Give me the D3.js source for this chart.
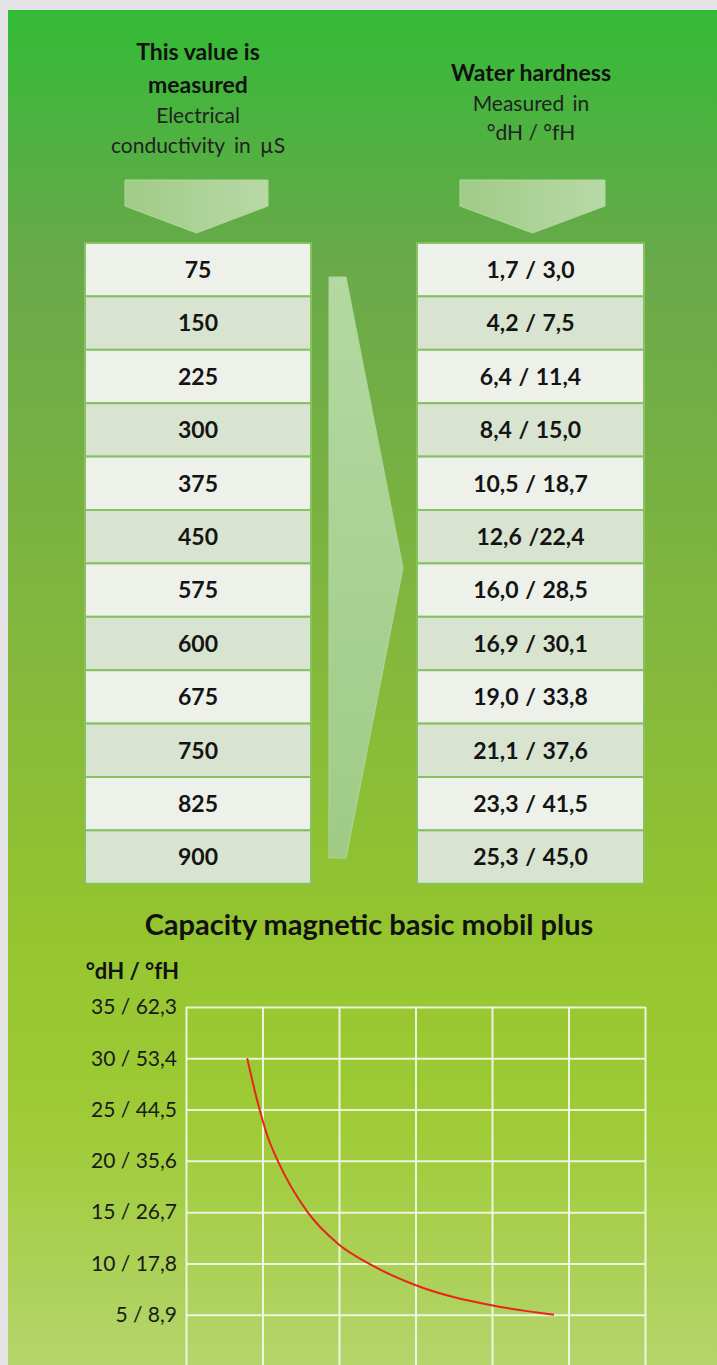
<!DOCTYPE html>
<html>
<head>
<meta charset="utf-8">
<script src="https://cdn.jsdelivr.net/npm/d3@7"></script>
<style>
  html, body { margin: 0; padding: 0; background: #e4e4e6; }
  svg { display: block; font-family: Lato, "Open Sans", sans-serif; }
</style>
</head>
<body>
<script>
// table data
var conductivity = [75, 150, 225, 300, 375, 450, 575, 600, 675, 750, 825, 900];
var hardness = ["1,7 / 3,0", "4,2 / 7,5", "6,4 / 11,4", "8,4 / 15,0", "10,5 / 18,7", "12,6 /22,4",
                "16,0 / 28,5", "16,9 / 30,1", "19,0 / 33,8", "21,1 / 37,6", "23,3 / 41,5", "25,3 / 45,0"];

// chart data
var yTicks = [5, 10, 15, 20, 25, 30, 35];
var yTickLabels = ["5 / 8,9", "10 / 17,8", "15 / 26,7", "20 / 35,6", "25 / 44,5", "30 / 53,4", "35 / 62,3"];
var xGrid = [0, 1, 2, 3, 4, 5, 6];
var capX = [0.80, 0.93, 1.07, 1.20, 1.58, 1.99, 2.41, 3.03, 4.01, 4.81];
var capY = [30, 25.9, 22.3, 20, 15.1, 11.9, 9.9, 7.8, 5.9, 5.0];

var W = 717, H = 1365;

var svg = d3.select("body").append("svg")
    .attr("width", W)
    .attr("height", H);

var defs = svg.append("defs");

// background gradient
var bg = defs.append("linearGradient").attr("id", "bg")
    .attr("x1", 0).attr("y1", 0).attr("x2", 0).attr("y2", 1);
[["0%", "#33bb36"], ["18%", "#68a94a"], ["45%", "#82b63e"], ["68%", "#94c52f"],
 ["82%", "#9ecb36"], ["100%", "#b4d56c"]].forEach(function(s) {
  bg.append("stop").attr("offset", s[0]).attr("stop-color", s[1]);
});

var arrowGrad = defs.append("linearGradient").attr("id", "arrowH")
    .attr("x1", 0).attr("y1", 0).attr("x2", 1).attr("y2", 0);
arrowGrad.append("stop").attr("offset", "0%").attr("stop-color", "#a0cb86");
arrowGrad.append("stop").attr("offset", "100%").attr("stop-color", "#b8d9a7");

var arrowV = defs.append("linearGradient").attr("id", "arrowV")
    .attr("x1", 0).attr("y1", 0).attr("x2", 0).attr("y2", 1);
arrowV.append("stop").attr("offset", "0%").attr("stop-color", "#b3d9a1");
arrowV.append("stop").attr("offset", "100%").attr("stop-color", "#9fcb86");

svg.append("rect")
    .attr("x", 8).attr("y", 10)
    .attr("width", W - 8).attr("height", H - 10)
    .attr("fill", "url(#bg)");

// column headers
var leftX = 198, rightX = 531;
var headers = [
  {x: leftX, y: 60, t: "This value is", b: true, ws: 0},
  {x: leftX, y: 93, t: "measured", b: true, ws: 0},
  {x: leftX, y: 123, t: "Electrical", b: false, ws: 0},
  {x: leftX, y: 153, t: "conductivity in µS", b: false, ws: 4},
  {x: rightX, y: 81, t: "Water hardness", b: true, ws: 0},
  {x: rightX, y: 111, t: "Measured in", b: false, ws: 3},
  {x: rightX, y: 140, t: "°dH / °fH", b: false, ws: 0}
];
svg.selectAll(".hdr")
    .data(headers)
  .enter().append("text")
    .attr("class", "hdr")
    .attr("x", function(d) { return d.x; })
    .attr("y", function(d) { return d.y; })
    .attr("text-anchor", "middle")
    .style("font-size", function(d) { return d.b ? "23px" : "21px"; })
    .style("font-weight", function(d) { return d.b ? "bold" : "normal"; })
    .style("word-spacing", function(d) { return d.ws + "px"; })
    .attr("fill", function(d) { return d.b ? "#111" : "#222"; })
    .text(function(d) { return d.t; });

// down arrows
function downArrow(x0, x1) {
  var mid = (x0 + x1) / 2;
  svg.append("path")
      .attr("d", "M" + x0 + ",180 L" + x1 + ",180 L" + x1 + ",206 L" + mid + ",233 L" + x0 + ",206 Z")
      .attr("fill", "url(#arrowH)")
      .attr("stroke", "#b4d79e")
      .attr("stroke-width", 1);
}
downArrow(125, 268);
downArrow(460, 605);

// big right arrow between columns
svg.append("path")
    .attr("d", "M329,277 L346,277 L403,568 L346,858 L329,858 Z")
    .attr("fill", "url(#arrowV)")
    .attr("stroke", "#b0d69c")
    .attr("stroke-width", 1);

// table
var rowH = 53.4, tableTop = 243;
var rowY = d3.scaleBand().domain(d3.range(conductivity.length))
    .range([tableTop, tableTop + rowH * conductivity.length]);

function column(x0, x1, values) {
  var g = svg.append("g");
  var rows = g.selectAll("g")
      .data(values)
    .enter().append("g")
      .attr("transform", function(d, i) { return "translate(0," + rowY(i) + ")"; });
  rows.append("rect")
      .attr("x", x0).attr("y", 0)
      .attr("width", x1 - x0).attr("height", rowY.bandwidth())
      .attr("fill", function(d, i) { return i % 2 ? "#d9e4d0" : "#edf1ea"; })
      .attr("stroke", "#86c262")
      .attr("stroke-width", 2);
  rows.append("text")
      .attr("x", (x0 + x1) / 2)
      .attr("y", rowY.bandwidth() / 2)
      .attr("dy", "0.36em")
      .attr("text-anchor", "middle")
      .style("font-size", "23px")
      .style("font-weight", "bold")
      .style("word-spacing", "1px")
      .attr("fill", "#141414")
      .text(function(d) { return d; });
}
column(85, 311, conductivity);
column(417, 644, hardness);

// chart
svg.append("text")
    .attr("x", 369).attr("y", 935)
    .attr("text-anchor", "middle")
    .style("font-size", "29px")
    .style("font-weight", "bold")
    .attr("fill", "#111")
    .text("Capacity magnetic basic mobil plus");

svg.append("text")
    .attr("x", 179).attr("y", 979)
    .attr("text-anchor", "end")
    .style("font-size", "22px")
    .style("font-weight", "bold")
    .attr("fill", "#111")
    .text("°dH / °fH");

var x = d3.scaleLinear().domain([0, 6]).range([186, 645]);
var y = d3.scaleLinear().domain([0, 35]).range([1366, 1007]);

// horizontal grid
svg.append("g")
    .attr("transform", "translate(186,0)")
    .call(d3.axisLeft(y).tickValues(yTicks.concat([0])).tickSize(-(645 - 186)).tickFormat(""))
    .call(function(g) {
      g.select(".domain").remove();
      g.selectAll("line").attr("stroke", "#f4f8ec").attr("stroke-width", 2).attr("stroke-opacity", 0.9);
    });

// vertical grid
svg.append("g")
    .attr("transform", "translate(0,1366)")
    .call(d3.axisBottom(x).tickValues(xGrid).tickSize(-(1366 - 1007)).tickFormat(""))
    .call(function(g) {
      g.select(".domain").remove();
      g.selectAll("line").attr("stroke", "#f4f8ec").attr("stroke-width", 2).attr("stroke-opacity", 0.9);
    });

// y labels
svg.append("g")
    .attr("transform", "translate(177,0)")
    .call(d3.axisLeft(y).tickValues(yTicks).tickSize(0).tickPadding(0)
      .tickFormat(function(d) { return yTickLabels[yTicks.indexOf(d)]; }))
    .call(function(g) {
      g.select(".domain").remove();
      g.selectAll("text")
        .style("font-family", "Lato, 'Open Sans', sans-serif")
        .style("font-size", "21px")
        .attr("fill", "#1a1a1a");
    });

// capacity curve
var pts = capX.map(function(v, i) { return [v, capY[i]]; });
var line = d3.line()
    .x(function(d) { return x(d[0]); })
    .y(function(d) { return y(d[1]); })
    .curve(d3.curveMonotoneX);

svg.append("path")
    .datum(pts)
    .attr("d", line)
    .attr("fill", "none")
    .attr("stroke", "#e8241c")
    .attr("stroke-width", 2);
</script>
</body>
</html>
